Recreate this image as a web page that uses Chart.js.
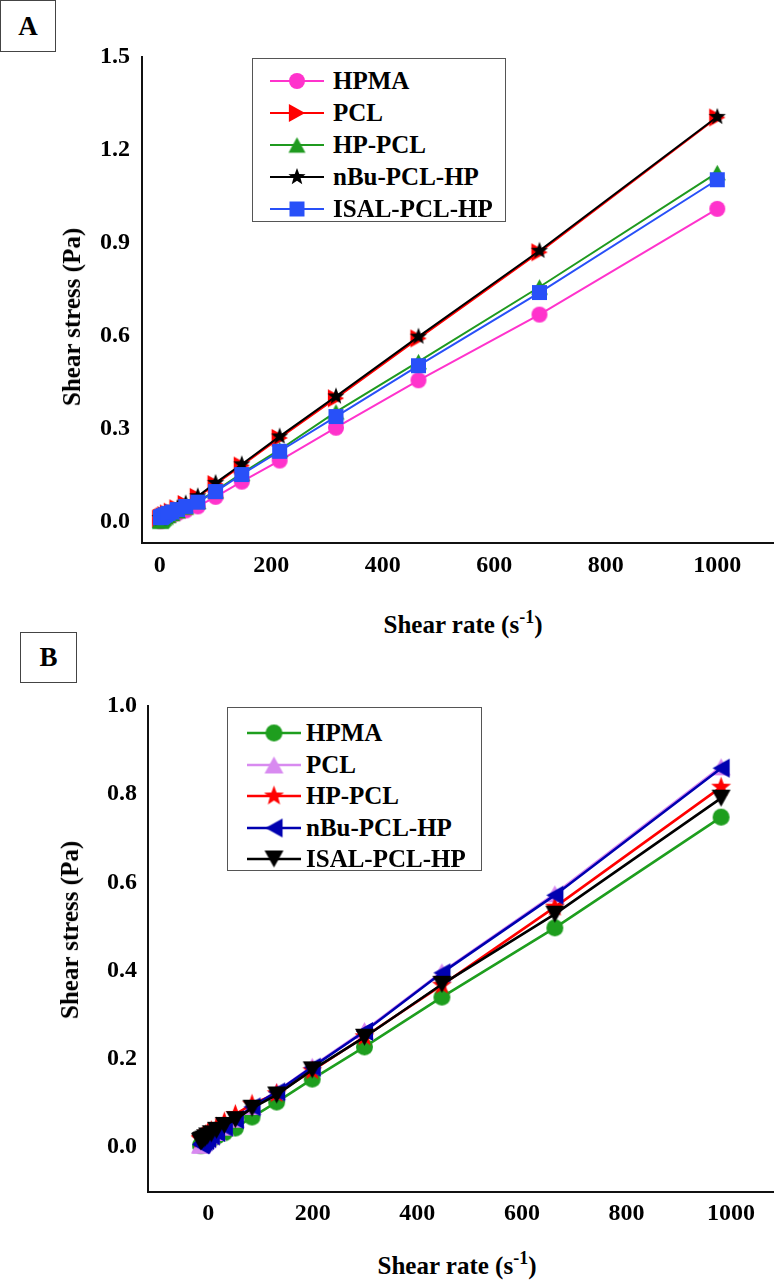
<!DOCTYPE html>
<html>
<head>
<meta charset="utf-8">
<script src="https://cdn.jsdelivr.net/npm/chart.js@4.4.1/dist/chart.umd.min.js"></script>
<style>
  body { margin: 0; background: #fff; width: 780px; height: 1282px; position: relative; overflow: hidden;
         font-family: 'Liberation Serif', 'Times New Roman', serif; font-weight: bold; color: #000; }
  canvas.plot { position: absolute; left: 0; }
  .tag { position: absolute; border: 1px solid #444; box-sizing: border-box; font-size: 27px;
         display: flex; align-items: center; justify-content: center; }
  .ytitle { position: absolute; white-space: nowrap; font-size: 25px; line-height: 30px;
            transform: translate(-50%, -50%) rotate(-90deg); }
  .xtitle { position: absolute; white-space: nowrap; font-size: 25px; line-height: 30px;
            transform: translate(-50%, -50%); }
  .xtitle sup { font-size: 18px; line-height: 0; vertical-align: 10px; }
  .legend { position: absolute; border: 1px solid #555; box-sizing: border-box; background: #fff; }
  .row { position: absolute; left: 0; right: 0; height: 32px; font-size: 25px; }
  .row canvas { position: absolute; top: 2px; }
  .row span { position: absolute; top: 0; line-height: 32px; white-space: nowrap; }
</style>
</head>
<body>

<div class="tag" style="left:0;top:0;width:56px;height:52px;">A</div>
<div class="tag" style="left:20px;top:632px;width:57px;height:51px;">B</div>

<canvas id="chartA" class="plot" width="780" height="600" style="top:0;"></canvas>
<canvas id="chartB" class="plot" width="780" height="600" style="top:640px;"></canvas>

<div class="ytitle" style="left:72px;top:317px;">Shear stress (Pa)</div>
<div class="ytitle" style="left:70px;top:930px;">Shear stress (Pa)</div>
<div class="xtitle" style="left:463px;top:625px;">Shear rate (s<sup>-1</sup>)</div>
<div class="xtitle" style="left:457px;top:1266px;">Shear rate (s<sup>-1</sup>)</div>

<div id="legendA" class="legend" style="left:252px;top:58px;width:254px;height:164px;"></div>
<div id="legendB" class="legend" style="left:227px;top:707px;width:255px;height:164px;"></div>

<script>
// ---- data ----
const seriesNames = ['HPMA', 'PCL', 'HP-PCL', 'nBu-PCL-HP', 'ISAL-PCL-HP'];

// panel A
const shearRateA = [1, 1.47, 2.15, 3.16, 4.64, 6.81, 10, 14.7, 21.5, 31.6, 46.4, 68.1, 100, 147, 215, 316, 464, 681, 1000];
const hpmaA  = [0.002, 0.003, 0.004, 0.005, 0.007, 0.009, 0.012, 0.016, 0.021, 0.028, 0.037, 0.050, 0.081, 0.130, 0.198, 0.304, 0.457, 0.669, 1.010];
const pclA   = [0.010, 0.011, 0.012, 0.013, 0.015, 0.018, 0.022, 0.027, 0.033, 0.044, 0.058, 0.081, 0.122, 0.182, 0.271, 0.399, 0.592, 0.870, 1.305];
const hpPclA = [0.003, 0.004, 0.005, 0.007, 0.009, 0.012, 0.016, 0.021, 0.027, 0.036, 0.048, 0.066, 0.100, 0.157, 0.233, 0.355, 0.517, 0.758, 1.127];
const nbuA   = [0.012, 0.013, 0.014, 0.015, 0.017, 0.019, 0.023, 0.028, 0.034, 0.045, 0.060, 0.083, 0.126, 0.186, 0.276, 0.405, 0.598, 0.875, 1.307];
const isalA  = [0.014, 0.014, 0.015, 0.016, 0.018, 0.020, 0.023, 0.027, 0.032, 0.040, 0.050, 0.064, 0.098, 0.153, 0.228, 0.340, 0.504, 0.740, 1.104];
const xTicksA = [0, 200, 400, 600, 800, 1000];
const yTicksA = [0, 0.3, 0.6, 0.9, 1.2, 1.5];

// panel B
const shearRateB = [-14, -14, -13, -12, -11, -8, -5, -1, 6, 16, 31, 52, 84, 131, 199, 299, 447, 663, 981];
const hpmaB  = [0.003, 0.004, 0.005, 0.006, 0.007, 0.009, 0.011, 0.014, 0.018, 0.024, 0.032, 0.043, 0.068, 0.102, 0.154, 0.227, 0.340, 0.497, 0.748];
const pclB   = [0.004, 0.005, 0.006, 0.008, 0.010, 0.012, 0.015, 0.019, 0.025, 0.033, 0.045, 0.063, 0.092, 0.126, 0.183, 0.264, 0.397, 0.574, 0.862];
const hpPclB = [0.018, 0.019, 0.020, 0.021, 0.023, 0.025, 0.028, 0.032, 0.037, 0.045, 0.057, 0.074, 0.097, 0.121, 0.173, 0.250, 0.367, 0.544, 0.816];
const nbuB   = [0.005, 0.006, 0.007, 0.008, 0.010, 0.012, 0.015, 0.019, 0.025, 0.033, 0.045, 0.062, 0.091, 0.125, 0.181, 0.262, 0.395, 0.571, 0.859];
const isalB  = [0.012, 0.013, 0.014, 0.015, 0.016, 0.018, 0.021, 0.025, 0.030, 0.038, 0.049, 0.062, 0.088, 0.118, 0.175, 0.249, 0.369, 0.528, 0.791];
const xTicksB = [0, 200, 400, 600, 800, 1000];
const yTicksB = [0, 0.2, 0.4, 0.6, 0.8, 1.0];

const FONT = "'Liberation Serif', 'Times New Roman', serif";

// filled marker drawn into a small canvas, used as pointStyle and in the legend
function makeMarker(shape, size, color) {
  const s = Math.ceil(size) + 4;
  const c = document.createElement('canvas');
  c.width = s; c.height = s;
  const g = c.getContext('2d');
  g.fillStyle = color;
  g.translate(s / 2, s / 2);
  const r = size / 2;
  g.beginPath();
  if (shape === 'circle') {
    g.arc(0, 0, r, 0, Math.PI * 2);
  } else if (shape === 'square') {
    g.rect(-r, -r, 2 * r, 2 * r);
  } else if (shape === 'star') {
    for (let i = 0; i < 10; i++) {
      const a = -Math.PI / 2 + i * Math.PI / 5;
      const rr = i % 2 ? r * 0.42 : r;
      g.lineTo(Math.cos(a) * rr, Math.sin(a) * rr);
    }
  } else {
    const rot = { triUp: 0, triRight: Math.PI / 2, triDown: Math.PI, triLeft: -Math.PI / 2 }[shape];
    g.rotate(rot);
    const h = size * 0.9;
    g.moveTo(0, -h / 2);
    g.lineTo(r, h / 2);
    g.lineTo(-r, h / 2);
  }
  g.closePath();
  g.fill();
  return c;
}

function makeDatasets(xs, ys, colors, markers, lineWidth) {
  return ys.map((vals, i) => ({
    label: seriesNames[i],
    data: xs.map((x, k) => ({ x: x, y: vals[k] })),
    showLine: true,
    borderColor: colors[i],
    backgroundColor: colors[i],
    borderWidth: lineWidth,
    pointStyle: markers[i],
    tension: 0,
    order: ys.length - i   // later series drawn on top
  }));
}

function buildLegend(el, colors, markers, lineWidth, o) {
  seriesNames.forEach((name, i) => {
    const row = document.createElement('div');
    row.className = 'row';
    row.style.top = (o.first + i * o.step - 16) + 'px';
    const sw = document.createElement('canvas');
    sw.width = 60; sw.height = 28;
    sw.style.left = o.swatch + 'px';
    const g = sw.getContext('2d');
    g.strokeStyle = colors[i];
    g.lineWidth = lineWidth;
    g.beginPath(); g.moveTo(3, 14); g.lineTo(57, 14); g.stroke();
    const m = markers[i];
    g.drawImage(m, 30 - m.width / 2, 14 - m.height / 2);
    const txt = document.createElement('span');
    txt.textContent = name;
    txt.style.left = o.text + 'px';
    row.appendChild(sw);
    row.appendChild(txt);
    el.appendChild(row);
  });
}

function makeChart(id, datasets, ax) {
  return new Chart(document.getElementById(id), {
    type: 'scatter',
    data: { datasets: datasets },
    options: {
      responsive: false,
      animation: false,
      events: [],
      layout: { padding: { top: ax.padTop, right: ax.padRight, left: 0, bottom: 0 } },
      plugins: { legend: { display: false }, tooltip: { enabled: false } },
      scales: {
        x: {
          type: 'linear',
          min: ax.xMin, max: ax.xMax,
          grid: { display: false, drawTicks: false },
          border: { display: true, color: '#111', width: 2 },
          afterBuildTicks: s => { s.ticks = ax.xTicks.map(v => ({ value: v })); },
          afterFit: s => { s.height = ax.xHeight; },
          ticks: { color: '#000', padding: ax.xPad, maxRotation: 0,
                   font: { family: FONT, size: 24, weight: 'bold' },
                   callback: v => String(v) }
        },
        y: {
          type: 'linear',
          min: ax.yMin, max: ax.yMax,
          grid: { display: false, drawTicks: false },
          border: { display: true, color: '#111', width: 2 },
          afterBuildTicks: s => { s.ticks = ax.yTicks.map(v => ({ value: v })); },
          afterFit: s => { s.width = ax.yWidth; },
          ticks: { color: '#000', padding: ax.yPad,
                   font: { family: FONT, size: 24, weight: 'bold' },
                   callback: v => v.toFixed(1) }
        }
      }
    }
  });
}

// panel A
const colorsA = ['#ff33cc', '#ff0000', '#1f9a1f', '#000000', '#2850f8'];
const markersA = [
  makeMarker('circle', 16, colorsA[0]),
  makeMarker('triRight', 18, colorsA[1]),
  makeMarker('triUp', 17, colorsA[2]),
  makeMarker('star', 18, colorsA[3]),
  makeMarker('square', 15, colorsA[4])
];
makeChart('chartA',
  makeDatasets(shearRateA, [hpmaA, pclA, hpPclA, nbuA, isalA], colorsA, markersA, 2),
  { xMin: -32, xMax: 1100, yMin: -0.068, yMax: 1.5, xTicks: xTicksA, yTicks: yTicksA,
    padTop: 57, padRight: 7, xHeight: 57, yWidth: 142, xPad: 8, yPad: 12 });
buildLegend(document.getElementById('legendA'), colorsA, markersA, 2,
  { first: 22, step: 32, swatch: 14, text: 80 });

// panel B
const colorsB = ['#1e9e1e', '#d88af0', '#ff0000', '#0000b0', '#000000'];
const markersB = [
  makeMarker('circle', 17, colorsB[0]),
  makeMarker('triUp', 19, colorsB[1]),
  makeMarker('star', 21, colorsB[2]),
  makeMarker('triLeft', 19, colorsB[3]),
  makeMarker('triDown', 19, colorsB[4])
];
makeChart('chartB',
  makeDatasets(shearRateB, [hpmaB, pclB, hpPclB, nbuB, isalB], colorsB, markersB, 2.6),
  { xMin: -115, xMax: 1081, yMin: -0.102, yMax: 1.0, xTicks: xTicksB, yTicks: yTicksB,
    padTop: 66, padRight: 0, xHeight: 48, yWidth: 148, xPad: 7, yPad: 11 });
buildLegend(document.getElementById('legendB'), colorsB, markersB, 2.6,
  { first: 25, step: 31.5, swatch: 16, text: 78 });
</script>
</body>
</html>
